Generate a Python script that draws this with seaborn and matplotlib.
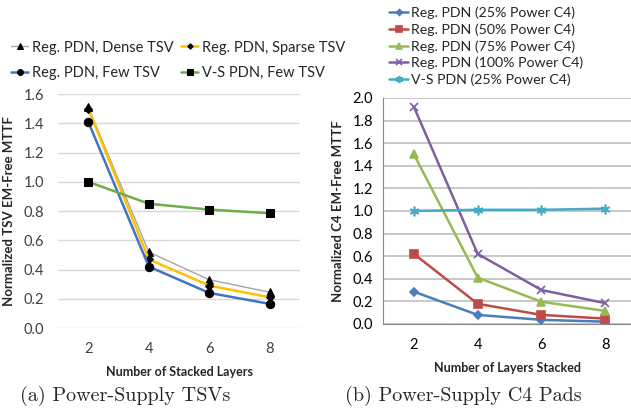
import numpy as np
import pandas as pd
import seaborn as sns
import matplotlib.pyplot as plt

# data
layers = [2, 4, 6, 8]

tsv_dense = [1.51, 0.52, 0.33, 0.245]
tsv_sparse = [1.50, 0.47, 0.29, 0.21]
tsv_few = [1.41, 0.42, 0.24, 0.165]
vs_few = [1.00, 0.85, 0.81, 0.785]

c4_25 = [0.285, 0.08, 0.036, 0.02]
c4_50 = [0.62, 0.178, 0.08, 0.047]
c4_75 = [1.50, 0.41, 0.196, 0.115]
c4_100 = [1.92, 0.62, 0.30, 0.184]
vs_c4_25 = [1.00, 1.01, 1.01, 1.02]

sns.set_style("white")
plt.rcParams['font.family'] = ['Lato', 'DejaVu Sans']

fig = plt.figure(figsize=(6.31, 4.09), dpi=100)
ax1 = fig.add_axes([0.092, 0.198, 0.3835, 0.572])
ax2 = fig.add_axes([0.607, 0.208, 0.393, 0.5526])

# left panel: TSVs
left_series = [
    ("Reg. PDN, Dense TSV", tsv_dense, "#A5A5A5", "^", 1.0),
    ("Reg. PDN, Sparse TSV", tsv_sparse, "#FFC000", "D", 1.8),
    ("Reg. PDN, Few TSV", tsv_few, "#4472C4", "o", 1.8),
    ("V-S PDN, Few TSV", vs_few, "#70AD47", "s", 1.8),
]
for name, vals, col, mk, lw in left_series:
    df = pd.DataFrame({"layers": layers, "mttf": vals})
    sns.lineplot(data=df, x="layers", y="mttf", ax=ax1, color=col, lw=lw,
                 marker=mk, markersize=6 if mk != "D" else 4,
                 markerfacecolor="black", markeredgecolor="black", label=name)
handles, labels = ax1.get_legend_handles_labels()
ax1.get_legend().remove()
order = [0, 2, 1, 3]
fig.legend([handles[i] for i in order], [labels[i] for i in order], ncol=2,
           loc="upper left", bbox_to_anchor=(0.008, 0.915), frameon=False,
           fontsize=10.5, handlelength=1.2, handletextpad=0.25, columnspacing=0.5,
           labelspacing=0.8, borderaxespad=0, markerscale=0.7)

ax1.set_xlim(1, 9)
ax1.set_ylim(0, 1.6)
ax1.set_xticks(layers)
ax1.set_yticks(np.arange(0, 1.61, 0.2))
ax1.set_yticklabels([f"{v:.1f}" for v in np.arange(0, 1.61, 0.2)])
ax1.grid(axis="y", color="#D9D9D9", lw=1)
for s in ax1.spines.values():
    s.set_visible(False)
ax1.tick_params(axis="both", length=0, labelsize=10.5, colors="#404040", pad=10)
ax1.set_xlabel("Number of Stacked Layers", fontsize=9, fontweight="bold", labelpad=7)
ax1.set_ylabel("Normalized TSV EM-Free MTTF", fontsize=9.5, fontweight="bold", labelpad=6)

# right panel: C4 pads
right_series = [
    ("Reg. PDN (25% Power C4)", c4_25, "#4A7EBB", "D", 4),
    ("Reg. PDN (50% Power C4)", c4_50, "#BE4B48", "s", 6),
    ("Reg. PDN (75% Power C4)", c4_75, "#98B954", "^", 6),
    ("Reg. PDN (100% Power C4)", c4_100, "#7D60A0", "x", 6),
    ("V-S PDN (25% Power C4)", vs_c4_25, "#46AAC5", (6, 2, 0), 7),
]
for name, vals, col, mk, ms in right_series:
    df = pd.DataFrame({"layers": layers, "mttf": vals})
    sns.lineplot(data=df, x="layers", y="mttf", ax=ax2, color=col, lw=1.8,
                 marker=mk, markersize=ms, markerfacecolor=col,
                 markeredgecolor=col, mew=1.2, label=name)
ax2.legend(loc="upper left", bbox_to_anchor=(0.608, 0.998),
           bbox_transform=fig.transFigure, frameon=False, fontsize=10.2,
           handlelength=1.3, handletextpad=0.2, labelspacing=0.3, borderaxespad=0,
           markerscale=0.75)

ax2.set_xlim(1.03, 8.81)
ax2.set_ylim(0, 2.0)
ax2.set_xticks(layers)
ax2.set_yticks(np.arange(0, 2.01, 0.2))
ax2.set_yticklabels([f"{v:.1f}" for v in np.arange(0, 2.01, 0.2)])
ax2.grid(axis="y", color="#BFBFBF", lw=1.2)
for k in ["top", "right"]:
    ax2.spines[k].set_visible(False)
ax2.spines["left"].set_color("#878787")
ax2.spines["bottom"].set_color("#878787")
ax2.tick_params(axis="y", length=4, color="#878787", labelsize=10.5, colors="black", pad=3)
ax2.tick_params(axis="x", length=0, labelsize=10.5, colors="black", pad=10)
ax2.set_xlabel("Number of Layers Stacked", fontsize=9, fontweight="bold", labelpad=7)
ax2.set_ylabel("Normalized C4 EM-Free MTTF", fontsize=9.5, fontweight="bold", labelpad=6)

# captions
fig.text(0.198, 0.02, "(a) Power-Supply TSVs", family="cmr10", fontsize=14.5, ha="center")
fig.text(0.735, 0.02, "(b) Power-Supply C4 Pads", family="cmr10", fontsize=14.5, ha="center")

fig.savefig("out.png", dpi=100)
